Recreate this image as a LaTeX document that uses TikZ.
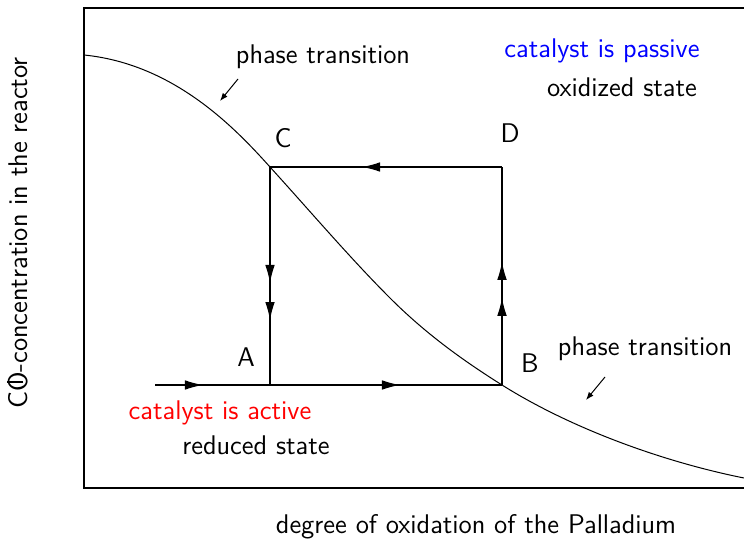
\documentclass[tikz,border=0pt]{standalone}
\usetikzlibrary{arrows.meta,decorations.markings}
\newcommand{\barO}{\ooalign{O\cr\hidewidth\rule[0.35ex]{0.07em}{1.35ex}\hidewidth\cr}}

\begin{document}
\begin{tikzpicture}[
  x=0.5pt,y=-0.5pt,
  every node/.style={font=\sffamily\fontsize{13.5}{16}\selectfont,inner sep=0pt},
  flow/.style={line width=0.6pt},
  flowtip/.style={postaction={decorate,decoration={markings,
      mark=at position #1 with {\arrow{Latex[length=9pt,width=4.8pt]}}}}},
  ptr/.style={-{Latex[length=4pt,width=3pt]},line width=0.5pt},
]
  \useasboundingbox (0,0) rectangle (744,540);

  % Axes
  \draw[line width=0.6pt] (744,8) -- (84,8) -- (84,488) -- (744,488);
  \node (xlab) at (476,527) {degree of oxidation of the Palladium};
  \node[rotate=90] (ylab) at (18,233) {C\barO-concentration in the reactor};

  % Cycle corners
  \coordinate (C) at (270,167);
  \coordinate (D) at (502,167);
  \coordinate (A) at (270,385);
  \coordinate (B) at (502,385);
  \coordinate (start) at (155,385);

  % Transition curve
  \draw[line width=0.5pt] (84,55) .. controls (174,64) and (235,128) .. (C)
    .. controls (310,211) and (350,258) .. (390,298)
    .. controls (427,335) and (465,361.7) .. (B)
    .. controls (572,429) and (664,462) .. (744,478);

  % Hysteresis loop
  \draw[flow,flowtip=0.138,flowtip=0.706] (start) -- (B);
  \draw[flow,flowtip=0.40,flowtip=0.565] (B) -- (D);
  \draw[flow,flowtip=0.603] (D) -- (C);
  \draw[flow,flowtip=0.532,flowtip=0.702] (C) -- (A);

  % Corner labels
  \node (lC) at (283,138) {C};
  \node (lD) at (510,133) {D};
  \node (lA) at (246,357) {A};
  \node (lB) at (530,363) {B};

  % States
  \node[text=blue] (passive) at (602,51) {catalyst is passive};
  \node (oxid) at (622,87) {oxidized state};
  \node[text=red] (active) at (220,413) {catalyst is active};
  \node (reduc) at (256,445) {reduced state};

  % Phase transitions
  \node (pt1) at (323,57) {phase transition};
  \coordinate (pt1a) at (238,79);
  \coordinate (pt1b) at (220,101);
  \draw[ptr] (pt1a) -- (pt1b);
  \node (pt2) at (645,349) {phase transition};
  \coordinate (pt2a) at (605,377);
  \coordinate (pt2b) at (586,400);
  \draw[ptr] (pt2a) -- (pt2b);
\end{tikzpicture}
\end{document}
